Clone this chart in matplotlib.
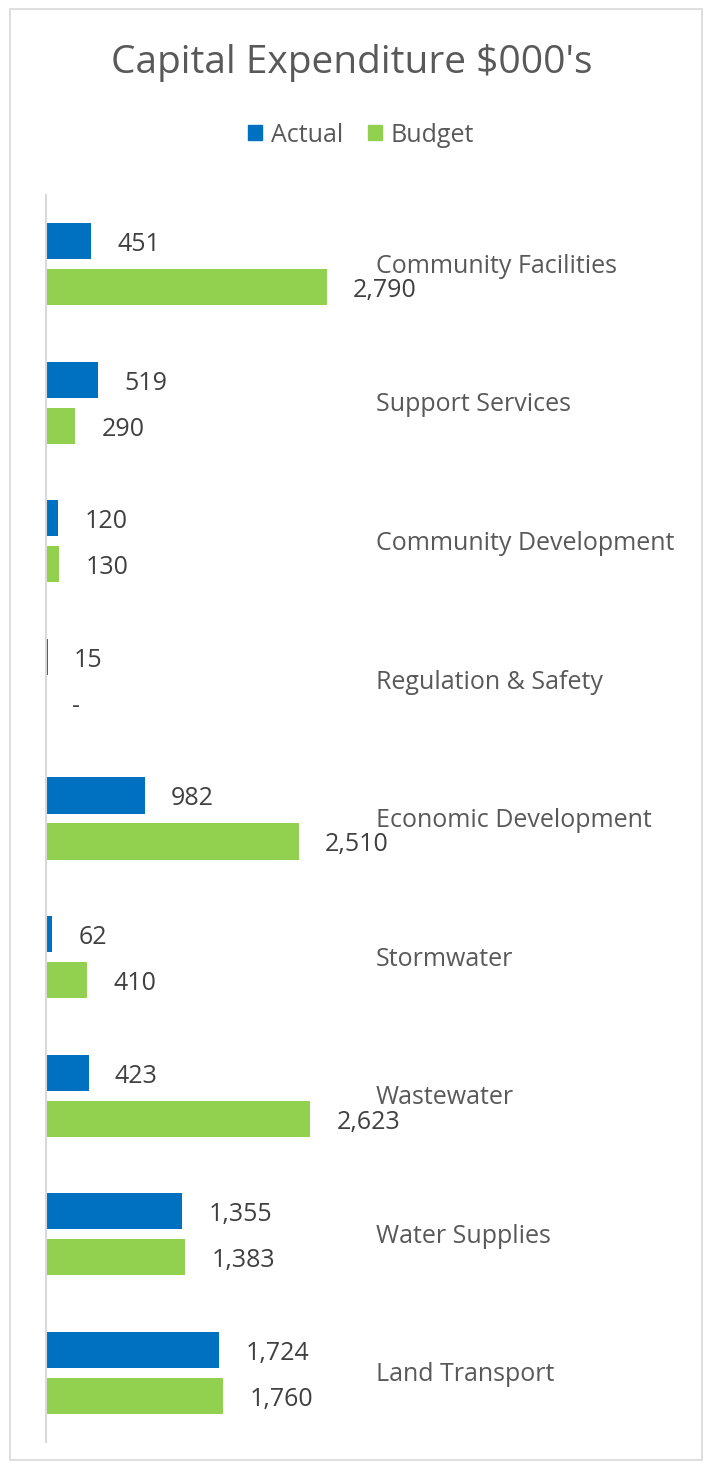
import matplotlib.pyplot as plt
import matplotlib.patches as mpatches
import numpy as np

# Values
categories = ["Community Facilities", "Support Services", "Community Development",
              "Regulation & Safety", "Economic Development", "Stormwater",
              "Wastewater", "Water Supplies", "Land Transport"]
actual = [451, 519, 120, 15, 982, 62, 423, 1355, 1724]
budget = [2790, 290, 130, 0, 2510, 410, 2623, 1383, 1760]

blue = '#0070C0'
green = '#92D050'
grey = '#595959'

plt.rcParams['font.family'] = ['Open Sans', 'DejaVu Sans']

W, H = 704, 1468
fig = plt.figure(figsize=(W / 100, H / 100), dpi=100)

# chart border
fig.add_artist(mpatches.Rectangle((10 / W, 1 - 1460 / H), 692 / W, 1451 / H,
                                  transform=fig.transFigure, fill=False,
                                  edgecolor='#D9D9D9', linewidth=1.2))

# plot area
ax = fig.add_axes([46 / W, 1 - 1442 / H, 322 / W, 1247 / H])
ax.set_xlim(0, 3200)
ax.set_ylim(len(categories) - 0.5, -0.5)

ind = np.arange(len(categories))
height = 0.26
off = 0.166

bars1 = ax.barh(ind - off, actual, height, color=blue, label='Actual', linewidth=0)
bars2 = ax.barh(ind + off, budget, height, color=green, label='Budget', linewidth=0)


def autolabel(rects, vals):
    for rect, v in zip(rects, vals):
        txt = '{:,}'.format(v) if v else '-'
        ax.annotate(txt,
                    xy=(rect.get_width(), rect.get_y() + rect.get_height() / 2),
                    xytext=(19, -2.5), textcoords='offset points',
                    ha='left', va='center', fontsize=18, color='#404040')


autolabel(bars1, actual)
autolabel(bars2, budget)

# category labels on the right
for i, cat in enumerate(categories):
    ax.annotate(cat, xy=(3280, i), xytext=(0, -1.5), textcoords='offset points',
                ha='left', va='center', fontsize=18, color=grey,
                annotation_clip=False)

for s in ['top', 'right', 'bottom']:
    ax.spines[s].set_visible(False)
ax.spines['left'].set_color('#D9D9D9')
ax.spines['left'].set_linewidth(1.5)
ax.set_xticks([])
ax.set_yticks([])

fig.text(0.5, 1 - 63 / H, "Capital Expenditure $000's", ha='center', va='center',
         fontsize=28, color=grey)

fig.legend(handles=[mpatches.Patch(color=blue, label='Actual'),
                    mpatches.Patch(color=green, label='Budget')],
           loc='center', bbox_to_anchor=(361 / W, 1 - 135 / H), ncol=2, frameon=False,
           fontsize=18, labelcolor=grey, handlelength=0.55, handleheight=0.55,
           handletextpad=0.35, columnspacing=1.0)

fig.savefig('out.png', dpi=100)
